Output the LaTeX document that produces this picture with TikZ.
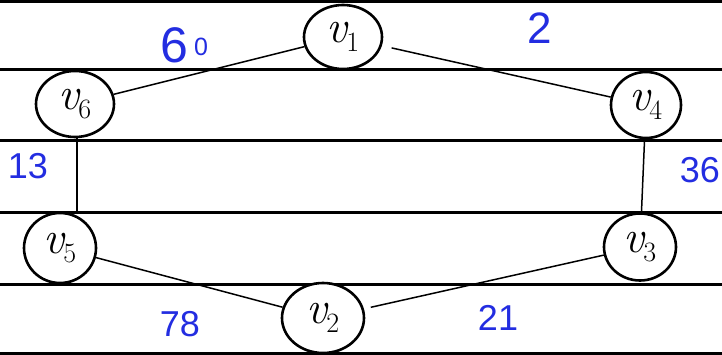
\documentclass[tikz,border=0pt]{standalone}
\usepackage{fontspec}
\newfontfamily\numfont{Liberation Sans}
\usetikzlibrary{shapes.geometric}
\definecolor{penblue}{RGB}{35,45,225}
\newcommand{\vlab}[1]{{\fontsize{46}{48}\selectfont\itshape v}\kern-1pt\raisebox{-9pt}{\fontsize{28}{30}\selectfont #1}}
\tikzset{
  vert/.style={draw=black, ellipse, fill=white, line width=2.6pt, inner sep=0pt},
  edge/.style={draw=black, line width=1.5pt},
  rule/.style={draw=black, line width=3pt},
  wlabel/.style={text=penblue, font=\numfont\fontsize{36}{40}\selectfont, inner sep=0pt}
}
\begin{document}
\begin{tikzpicture}[x=1pt,y=-1pt]
\useasboundingbox (0,0) rectangle (722,355);
\fill[white] (0,0) rectangle (722,355);
% ruled lines
\foreach \yy in {2,70,141,213,284,353} \draw[rule] (0,\yy) -- (722,\yy);
% vertices
\node[vert, minimum width=78pt, minimum height=64pt] (v1) at (343,37) {\vlab{1}};
\node[vert, minimum width=78pt, minimum height=66pt] (v6) at (75,104) {\vlab{6}};
\node[vert, minimum width=70pt, minimum height=66pt] (v4) at (646,105) {\vlab{4}};
\node[vert, minimum width=72pt, minimum height=70pt] (v5) at (60,248) {\vlab{5}};
\node[vert, minimum width=72pt, minimum height=67pt] (v3) at (640,247) {\vlab{3}};
\node[vert, minimum width=82pt, minimum height=70pt] (v2) at (323,318) {\vlab{2}};
% edges
\draw[edge] (v6) -- (v1);
\draw[edge, shorten <=10pt] (v1) -- (v4);
\draw[edge] (v6.south) ++(2,0) coordinate (v6b) -- (v5.north -| v6b);
\draw[edge] (v4) -- (v3);
\draw[edge] (v5) -- (v2);
\draw[edge, shorten >=7pt] (v3) -- (v2);
% weights
\node[wlabel, anchor=base west] (w60) at (160,63) {{\fontsize{50}{52}\selectfont 6}\kern6pt\raisebox{7pt}{\fontsize{25}{27}\selectfont 0}};
\node[wlabel, font=\numfont\fontsize{44}{46}\selectfont] (w2) at (540,28) {2};
\node[wlabel] (w13) at (28,166) {13};
\node[wlabel, anchor=east] (w36) at (720,170) {36};
\node[wlabel] (w78) at (180,324) {78};
\node[wlabel] (w21) at (498,318) {21};
\end{tikzpicture}
\end{document}
